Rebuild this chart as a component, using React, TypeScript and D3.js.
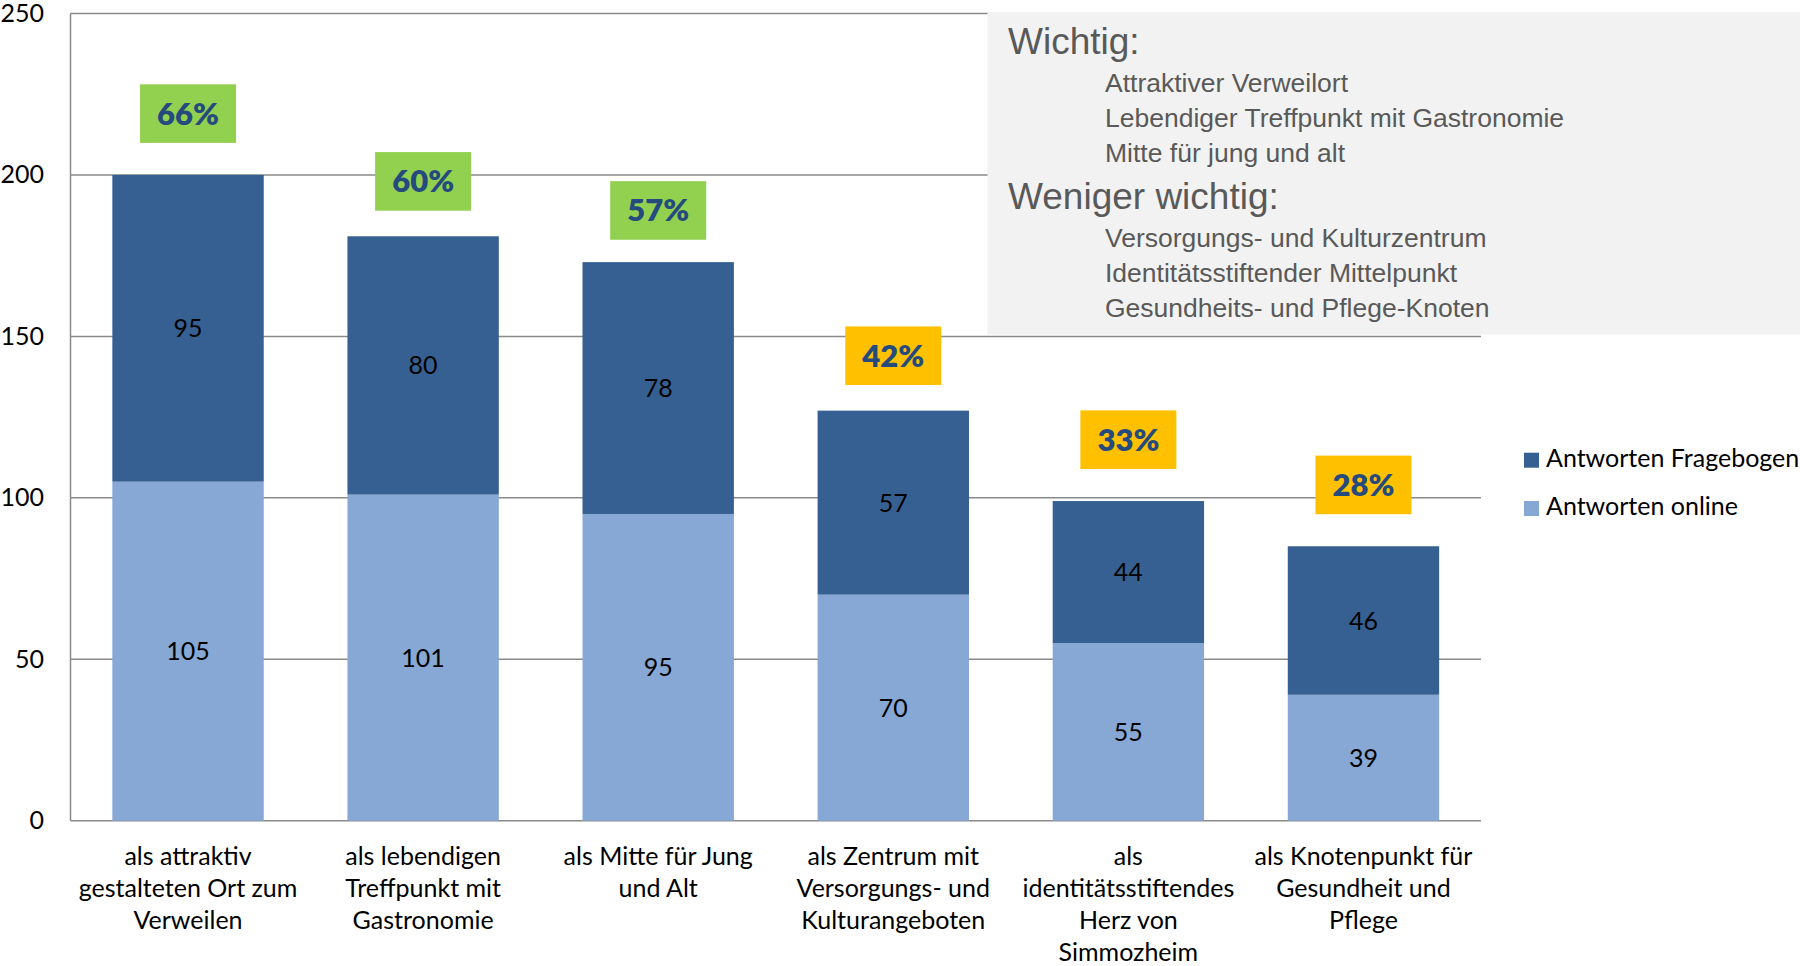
import React from "react";
import * as d3 from "d3";

const categories: string[][] = [
  ["als attraktiv", "gestalteten Ort zum", "Verweilen"],
  ["als lebendigen", "Treffpunkt mit", "Gastronomie"],
  ["als Mitte für Jung", "und Alt"],
  ["als Zentrum mit", "Versorgungs- und", "Kulturangeboten"],
  ["als", "identitätsstiftendes", "Herz von", "Simmozheim"],
  ["als Knotenpunkt für", "Gesundheit und", "Pflege"],
];
const online: number[] = [105, 101, 95, 70, 55, 39];
const fragebogen: number[] = [95, 80, 78, 57, 44, 46];
const percentLabels: string[] = ["66%", "60%", "57%", "42%", "33%", "28%"];
const percentImportant: boolean[] = [true, true, true, false, false, false];
const badgeLevel: number[] = [219, 198, 189, 144, 118, 104];
const yTicks: number[] = [0, 50, 100, 150, 200, 250];
const seriesNames: string[] = ["Antworten Fragebogen", "Antworten online"];
const wichtig: string[] = ["Attraktiver Verweilort", "Lebendiger Treffpunkt mit Gastronomie", "Mitte für jung und alt"];
const wenigerWichtig: string[] = ["Versorgungs- und Kulturzentrum", "Identitätsstiftender Mittelpunkt", "Gesundheits- und Pflege-Knoten"];

const W = 1800;
const H = 966;
const FONT = "Lato, 'Open Sans', sans-serif";
const ARIAL = "'Liberation Sans', Arial, sans-serif";
const DARK = "#366092";
const LIGHT = "#87a8d4";
const GRID = "#8a8a8a";

export default function App() {
  const x = d3
    .scaleBand<number>()
    .domain(d3.range(categories.length))
    .range([70.5, 1481])
    .paddingInner(0.356)
    .paddingOuter(0.178);
  const y = d3.scaleLinear().domain([0, 250]).range([820.7, 13.5]);
  const bw = x.bandwidth();

  return (
    <svg width={W} height={H} style={{ position: "absolute", left: 0, top: 0, background: "#fff" }}>
      {/* gridlines */}
      {yTicks.map((t) => (
        <line key={"g" + t} x1={70.5} x2={1481} y1={y(t)} y2={y(t)} stroke={GRID} strokeWidth={1.5} />
      ))}
      <line x1={70.5} x2={70.5} y1={y(250)} y2={y(0)} stroke={GRID} strokeWidth={1.5} />
      {yTicks.map((t) => (
        <text key={"t" + t} x={44} y={y(t) + 8.5} textAnchor="end" fontFamily={FONT} fontSize={25} fill="#000">
          {t}
        </text>
      ))}

      {/* info box */}
      <rect x={987.5} y={12} width={W - 987.5} height={322.5} fill="#f2f2f2" />
      <text x={1008} y={54} fontFamily={ARIAL} fontSize={37} fill="#595959">Wichtig:</text>
      {wichtig.map((s, i) => (
        <text key={"w" + i} x={1105} y={91.7 + i * 35} fontFamily={ARIAL} fontSize={26.5} fill="#595959">{s}</text>
      ))}
      <text x={1008} y={209} fontFamily={ARIAL} fontSize={37} fill="#595959">Weniger wichtig:</text>
      {wenigerWichtig.map((s, i) => (
        <text key={"n" + i} x={1105} y={246.7 + i * 35} fontFamily={ARIAL} fontSize={26.5} fill="#595959">{s}</text>
      ))}

      {/* bars */}
      {categories.map((_, i) => {
        const x0 = x(i)!;
        const cx = x0 + bw / 2;
        const total = online[i] + fragebogen[i];
        return (
          <g key={"b" + i}>
            <rect x={x0} y={y(online[i])} width={bw} height={y(0) - y(online[i])} fill={LIGHT} />
            <rect x={x0} y={y(total)} width={bw} height={y(online[i]) - y(total)} fill={DARK} />
            <text x={cx} y={(y(0) + y(online[i])) / 2 + 9} textAnchor="middle" fontFamily={FONT} fontSize={25} fill="#000">
              {online[i]}
            </text>
            <text x={cx} y={(y(online[i]) + y(total)) / 2 + 9} textAnchor="middle" fontFamily={FONT} fontSize={25} fill="#000">
              {fragebogen[i]}
            </text>
            <rect x={cx - 48} y={y(badgeLevel[i]) - 29.3} width={96} height={58.6} fill={percentImportant[i] ? "#92d050" : "#ffc000"} />
            <text x={cx} y={y(badgeLevel[i]) + 11} textAnchor="middle" fontFamily={FONT} fontWeight={800} fontSize={31} fill="#254a7d">
              {percentLabels[i]}
            </text>
            {categories[i].map((line, j) => (
              <text key={j} x={cx} y={865 + j * 32} textAnchor="middle" fontFamily={FONT} fontSize={25} fill="#000">
                {line}
              </text>
            ))}
          </g>
        );
      })}

      {/* legend */}
      {seriesNames.map((s, i) => (
        <g key={"l" + i}>
          <rect x={1524} y={452.7 + i * 48.3} width={15} height={15} fill={i === 0 ? DARK : LIGHT} />
          <text x={1546} y={466.7 + i * 48.3} fontFamily={FONT} fontSize={25} fill="#000">{s}</text>
        </g>
      ))}
    </svg>
  );
}
